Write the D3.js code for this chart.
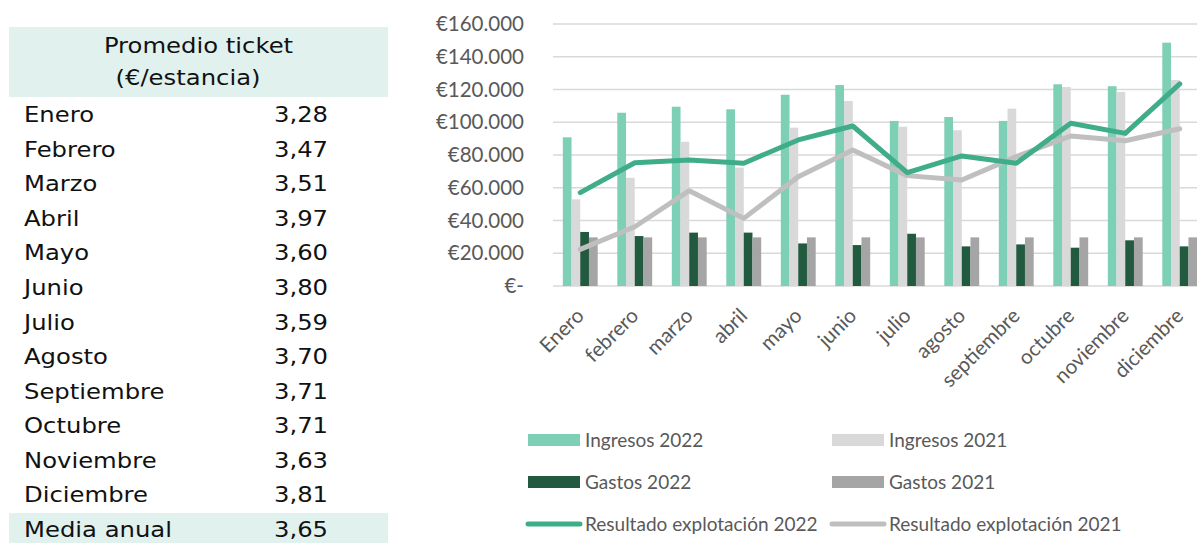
<!DOCTYPE html>
<html>
<head>
<meta charset="utf-8">
<script src="https://cdn.jsdelivr.net/npm/d3@7"></script>
<style>
  html, body { margin: 0; padding: 0; background: #fff; }
  svg { display: block; }
</style>
</head>
<body>
<div id="app"></div>
<script>
'use strict'

// table on the left
const tableMonths = ['Enero', 'Febrero', 'Marzo', 'Abril', 'Mayo', 'Junio', 'Julio',
  'Agosto', 'Septiembre', 'Octubre', 'Noviembre', 'Diciembre']
const ticketValues = ['3,28', '3,47', '3,51', '3,97', '3,60', '3,80', '3,59',
  '3,70', '3,71', '3,71', '3,63', '3,81']
const ticketAverage = '3,65'

// chart data
const months = ['Enero', 'febrero', 'marzo', 'abril', 'mayo', 'junio', 'julio',
  'agosto', 'septiembre', 'octubre', 'noviembre', 'diciembre']
const ingresos2022 = [90800, 105800, 109500, 107900, 116800, 122700, 100800, 103200, 100800, 123200, 122000, 148600]
const ingresos2021 = [52900, 66100, 88100, 72300, 96700, 113000, 97300, 95100, 108300, 121500, 118500, 125800]
const gastos2022 = [33000, 30500, 32600, 32600, 26000, 25000, 31900, 24200, 25400, 23400, 27900, 24200]
const gastos2021 = [29700, 29700, 29700, 29700, 29700, 29700, 29700, 29700, 29700, 29700, 29700, 29700]
const resultado2022 = [57000, 75300, 77000, 75000, 89200, 97700, 69200, 79400, 75000, 99400, 93200, 123400]
const resultado2021 = [22400, 36200, 58200, 41300, 66700, 83000, 67400, 64700, 79000, 91600, 88700, 96000]
const yTicks = [0, 20000, 40000, 60000, 80000, 100000, 120000, 140000, 160000]

const width = 1197
const height = 543

const svg = d3.select('#app')
  .append('svg')
  .attr('width', width)
  .attr('height', height)

// ---- table ----
const tableFont = '"DejaVu Sans", sans-serif'
const stretch = 1.13

const table = svg.append('g')

table.append('rect')
  .attr('x', 9).attr('y', 27).attr('width', 379).attr('height', 70)
  .attr('fill', '#e1f1ee')

table.append('rect')
  .attr('x', 9).attr('y', 513).attr('width', 379).attr('height', 32)
  .attr('fill', '#e1f1ee')

const addText = (txt, x, y, anchor) => {
  table.append('text')
    .attr('transform', `translate(${x},${y}) scale(${stretch},1)`)
    .attr('text-anchor', anchor)
    .attr('font-family', tableFont)
    .attr('font-size', 21.5)
    .attr('fill', '#111')
    .text(txt)
}

addText('Promedio ticket', 198.5, 53, 'middle')
addText('(€/estancia)', 188, 85, 'middle')

const rowY = d3.scaleLinear().domain([0, 12]).range([122, 537])

tableMonths.forEach((m, i) => {
  addText(m, 24, rowY(i), 'start')
  addText(ticketValues[i], 301, rowY(i), 'middle')
})
addText('Media anual', 24, rowY(12), 'start')
addText(ticketAverage, 301, rowY(12), 'middle')

// ---- chart ----
const chartFont = 'Lato, sans-serif'
const plot = { left: 553, top: 24, bottom: 286 }

const scaleX = d3.scaleBand()
  .domain(months)
  .range([plot.left, plot.left + 12 * 54.5])
  .padding(0)

const barKeys = ['i22', 'i21', 'g22', 'g21']
const barSeries = {
  i22: { values: ingresos2022, color: '#7dcfb6' },
  i21: { values: ingresos2021, color: '#d9d9d9' },
  g22: { values: gastos2022, color: '#225a40' },
  g21: { values: gastos2021, color: '#a5a5a5' }
}

const scaleSub = d3.scaleBand()
  .domain(barKeys)
  .range([scaleX.bandwidth() * 0.18, scaleX.bandwidth() * 0.82])
  .padding(0)

const scaleY = d3.scaleLinear()
  .domain([0, 160000])
  .range([plot.bottom, plot.top])

const euro = d3.formatLocale({ decimal: ',', thousands: '.', grouping: [3], currency: ['€', ''] })
const fmt = v => v === 0 ? '€-' : euro.format('$,.0f')(v)

// grid
svg.append('g')
  .selectAll('line')
  .data(yTicks)
  .join('line')
  .attr('x1', plot.left)
  .attr('x2', width)
  .attr('y1', d => scaleY(d))
  .attr('y2', d => scaleY(d))
  .attr('stroke', '#d9d9d9')
  .attr('stroke-width', d => d === 0 ? 1.6 : 1.3)

// y axis labels
const yAxis = svg.append('g')
  .attr('transform', `translate(${plot.left - 29},0)`)
  .call(d3.axisLeft(scaleY).tickValues(yTicks).tickFormat(fmt).tickSize(0).tickPadding(0))
yAxis.select('.domain').remove()
yAxis.selectAll('text')
  .attr('font-family', chartFont)
  .attr('font-size', 20.5)
  .attr('fill', '#595959')

// bars
barKeys.forEach(k => {
  svg.append('g')
    .selectAll('rect')
    .data(barSeries[k].values)
    .join('rect')
    .attr('x', (d, i) => scaleX(months[i]) + scaleSub(k))
    .attr('width', scaleSub.bandwidth())
    .attr('y', d => scaleY(d))
    .attr('height', d => plot.bottom - scaleY(d))
    .attr('fill', barSeries[k].color)
})

// lines
const line = d3.line()
  .x((d, i) => scaleX(months[i]) + scaleX.bandwidth() / 2)
  .y(d => scaleY(d))

const lineSeries = [
  { values: resultado2021, color: '#bfbfbf' },
  { values: resultado2022, color: '#40ad8a' }
]

lineSeries.forEach(s => {
  svg.append('path')
    .datum(s.values)
    .attr('d', line)
    .attr('fill', 'none')
    .attr('stroke', s.color)
    .attr('stroke-width', 5)
    .attr('stroke-linejoin', 'round')
    .attr('stroke-linecap', 'round')
})

// x labels
const xAxis = svg.append('g')
  .attr('transform', `translate(0,${plot.bottom})`)
  .call(d3.axisBottom(scaleX).tickSize(0).tickPadding(0))
xAxis.select('.domain').remove()
xAxis.selectAll('text')
  .attr('font-family', chartFont)
  .attr('font-size', 20.5)
  .attr('fill', '#595959')
  .attr('text-anchor', 'end')
  .attr('dy', 0)
  .attr('transform', 'translate(5,31) rotate(-45)')

// legend
const legendItems = [
  { label: 'Ingresos 2022', color: '#7dcfb6', type: 'bar', x: 528, y: 440 },
  { label: 'Ingresos 2021', color: '#d9d9d9', type: 'bar', x: 832, y: 440 },
  { label: 'Gastos 2022', color: '#225a40', type: 'bar', x: 528, y: 482 },
  { label: 'Gastos 2021', color: '#a5a5a5', type: 'bar', x: 832, y: 482 },
  { label: 'Resultado explotación 2022', color: '#40ad8a', type: 'line', x: 528, y: 524 },
  { label: 'Resultado explotación 2021', color: '#bfbfbf', type: 'line', x: 832, y: 524 }
]

const legend = svg.append('g')
  .selectAll('g')
  .data(legendItems)
  .join('g')
  .attr('transform', d => `translate(${d.x},${d.y})`)

legend.filter(d => d.type === 'bar')
  .append('rect')
  .attr('x', 0).attr('y', -6).attr('width', 52).attr('height', 12)
  .attr('fill', d => d.color)

legend.filter(d => d.type === 'line')
  .append('line')
  .attr('x1', 0).attr('x2', 52).attr('y1', 0).attr('y2', 0)
  .attr('stroke', d => d.color)
  .attr('stroke-width', 5)
  .attr('stroke-linecap', 'round')

legend.append('text')
  .attr('x', 57)
  .attr('dy', '0.35em')
  .attr('font-family', chartFont)
  .attr('font-size', 19)
  .attr('fill', '#595959')
  .text(d => d.label)
</script>
</body>
</html>
